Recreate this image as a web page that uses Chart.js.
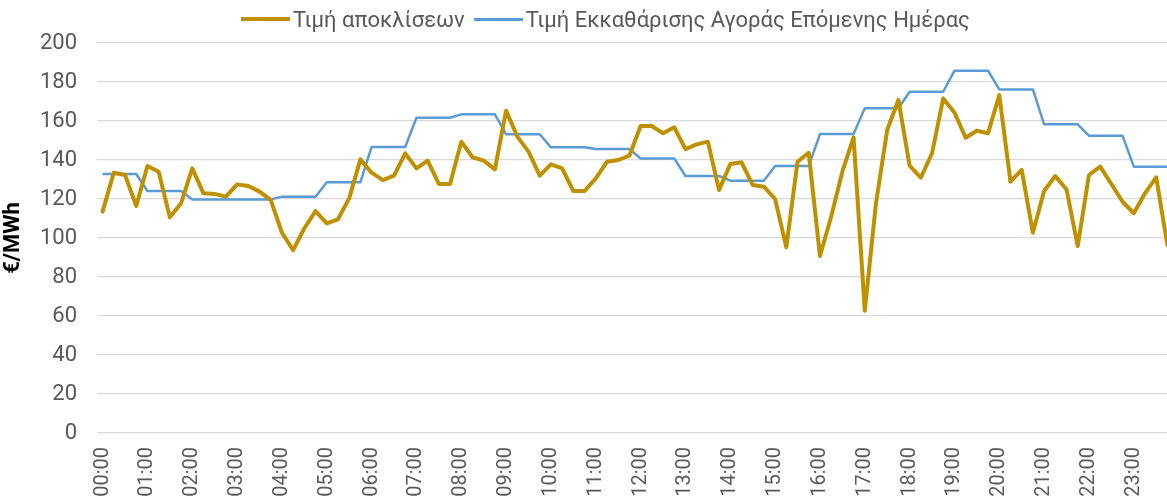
<!DOCTYPE html>
<html>
<head>
<meta charset="utf-8">
<script src="https://cdn.jsdelivr.net/npm/chart.js@4.4.1/dist/chart.umd.min.js"></script>
<style>
  html, body { margin: 0; padding: 0; background: #ffffff; overflow: hidden; width: 1167px; height: 503px; }
  #wrap { position: absolute; left: 0; top: 0; width: 1173px; height: 520px; }
  #legend { position: absolute; top: 6px; left: 241px; height: 26px; display: flex; align-items: center;
            font-family: Roboto, "Noto Sans", sans-serif; font-size: 22px; color: #595959; white-space: nowrap; }
  #legend .ln { display: inline-block; width: 49px; }
  #legend .tx { margin-left: 3px; margin-right: 9px; }
</style>
</head>
<body>
<div id="wrap"><canvas id="c"></canvas></div>
<div id="legend"></div>
<script>
const categories = [
  "00:00","00:15","00:30","00:45","01:00","01:15","01:30","01:45",
  "02:00","02:15","02:30","02:45","03:00","03:15","03:30","03:45",
  "04:00","04:15","04:30","04:45","05:00","05:15","05:30","05:45",
  "06:00","06:15","06:30","06:45","07:00","07:15","07:30","07:45",
  "08:00","08:15","08:30","08:45","09:00","09:15","09:30","09:45",
  "10:00","10:15","10:30","10:45","11:00","11:15","11:30","11:45",
  "12:00","12:15","12:30","12:45","13:00","13:15","13:30","13:45",
  "14:00","14:15","14:30","14:45","15:00","15:15","15:30","15:45",
  "16:00","16:15","16:30","16:45","17:00","17:15","17:30","17:45",
  "18:00","18:15","18:30","18:45","19:00","19:15","19:30","19:45",
  "20:00","20:15","20:30","20:45","21:00","21:15","21:30","21:45",
  "22:00","22:15","22:30","22:45","23:00","23:15","23:30","23:45"
];
const tickLabels = [
  "00:00","01:00","02:00","03:00","04:00","05:00","06:00","07:00",
  "08:00","09:00","10:00","11:00","12:00","13:00","14:00","15:00",
  "16:00","17:00","18:00","19:00","20:00","21:00","22:00","23:00"
];
const seriesNames = ["Τιμή αποκλίσεων", "Τιμή Εκκαθάρισης Αγοράς Επόμενης Ημέρας"];
const imbalancePrice = [
  113.5,133.5,132.3,116.4,136.9,134.0,110.6,117.8,
  135.7,122.9,122.6,121.2,127.5,126.7,123.8,119.5,
  102.7,93.8,105.0,113.8,107.5,109.6,120.3,140.3,
  133.5,129.7,132.0,143.4,135.7,139.7,127.7,127.7,
  149.4,141.4,139.7,135.2,165.3,152.0,144.3,132.0,
  137.8,135.7,124.1,124.1,130.6,139.1,140.0,142.2,
  157.4,157.4,153.7,156.8,145.6,148.0,149.4,124.6,
  137.9,138.8,127.2,126.3,120.0,95.2,139.1,143.7,
  90.8,110.9,134.0,151.6,62.7,117.8,155.4,170.8,
  137.1,130.9,143.4,171.6,164.4,151.4,155.0,153.7,
  173.3,128.9,134.9,102.7,124.1,131.8,124.9,95.9,
  132.3,136.6,127.7,118.6,112.7,122.9,131.1,96.4
];
const dayAheadPrice = [
  132.8,132.8,132.8,132.8,124.1,124.1,124.1,124.1,
  119.8,119.8,119.8,119.8,119.8,119.8,119.8,119.8,
  121.2,121.2,121.2,121.2,128.6,128.6,128.6,128.6,
  146.7,146.7,146.7,146.7,161.7,161.7,161.7,161.7,
  163.4,163.4,163.4,163.4,153.2,153.2,153.2,153.2,
  146.5,146.5,146.5,146.5,145.6,145.6,145.6,145.6,
  140.8,140.8,140.8,140.8,131.8,131.8,131.8,131.8,
  129.4,129.4,129.4,129.4,136.9,136.9,136.9,136.9,
  153.3,153.3,153.3,153.3,166.5,166.5,166.5,166.5,
  175.0,175.0,175.0,175.0,185.8,185.8,185.8,185.8,
  176.2,176.2,176.2,176.2,158.3,158.3,158.3,158.3,
  152.5,152.5,152.5,152.5,136.6,136.6,136.6,136.6
];
const yTitle = "€/MWh";

const colors = ["#BF9000", "#5B9BD5"];
const widths = [4, 2.5];
const textColor = "#595959";
const fontFamily = "Roboto, 'Noto Sans', sans-serif";

// HTML legend
const lg = document.getElementById('legend');
seriesNames.forEach((name, i) => {
  const ln = document.createElement('span');
  ln.className = 'ln';
  ln.style.height = (i === 0 ? 4 : 3) + 'px';
  ln.style.background = colors[i];
  const tx = document.createElement('span');
  tx.className = 'tx';
  tx.textContent = name;
  lg.appendChild(ln); lg.appendChild(tx);
});

new Chart(document.getElementById('c'), {
  type: 'line',
  data: {
    labels: categories,
    datasets: [
      { label: seriesNames[0], data: imbalancePrice, borderColor: colors[0], backgroundColor: colors[0],
        borderWidth: widths[0], pointRadius: 0, tension: 0, borderJoinStyle: 'round', borderCapStyle: 'round' },
      { label: seriesNames[1], data: dayAheadPrice, borderColor: colors[1], backgroundColor: colors[1],
        borderWidth: widths[1], pointRadius: 0, tension: 0, borderJoinStyle: 'round' }
    ]
  },
  options: {
    responsive: true,
    maintainAspectRatio: false,
    animation: false,
    layout: { padding: { top: 43, left: 0, right: 0, bottom: 0 } },
    plugins: { legend: { display: false }, tooltip: { enabled: false } },
    scales: {
      x: {
        type: 'category',
        offset: true,
        grid: { display: false, drawTicks: false },
        border: { display: false },
        ticks: {
          autoSkip: false, maxRotation: 90, minRotation: 90, padding: 14,
          color: textColor, font: { family: fontFamily, size: 20 },
          callback: function(val, idx) {
            const lab = this.getLabelForValue(val);
            return tickLabels.includes(lab) ? lab : '';
          }
        },
        afterFit: s => { s.height = 87; s.paddingLeft = 0; s.paddingRight = 0; }
      },
      y: {
        min: 0, max: 200,
        grid: { color: '#D9D9D9', lineWidth: 1.3, drawTicks: false },
        border: { display: false },
        ticks: { stepSize: 20, padding: 20, color: textColor, font: { family: fontFamily, size: 22 } },
        title: { display: true, text: yTitle, color: '#000000', padding: 0,
                 font: { family: fontFamily, size: 22, weight: 'bold' } },
        afterFit: s => { s.width = 97; }
      }
    }
  }
});
</script>
</body>
</html>
